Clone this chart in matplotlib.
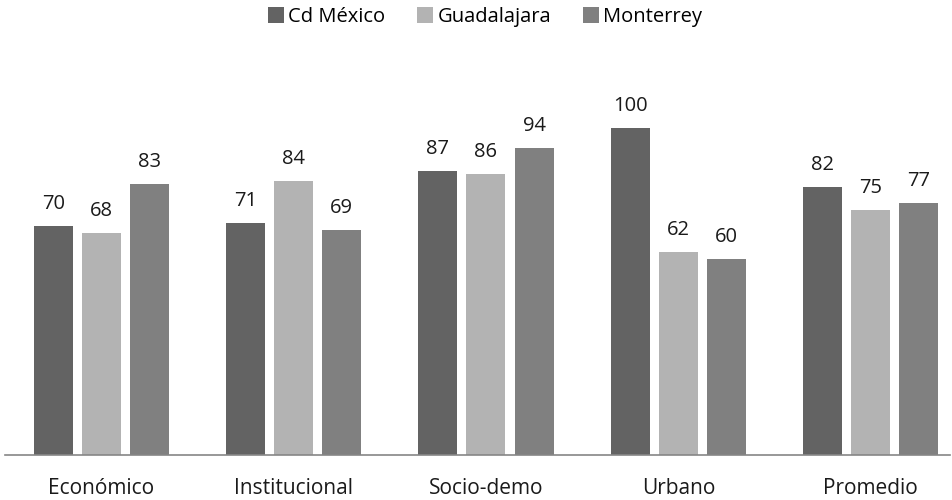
import numpy as np
import matplotlib.pyplot as plt

categories = ["Económico", "Institucional", "Socio-demo", "Urbano", "Promedio"]
series_names = ["Cd México", "Guadalajara", "Monterrey"]
cd_mexico = [70, 71, 87, 100, 82]
guadalajara = [68, 84, 86, 62, 75]
monterrey = [83, 69, 94, 60, 77]
colors = ["#636363", "#b3b3b3", "#808080"]

plt.rcParams['font.family'] = ['Open Sans', 'DejaVu Sans']
fs = 14.5

fig = plt.figure(figsize=(9.53, 5), dpi=100)
# axes spans pixel 5..950 horizontally, baseline at y=455
ax = fig.add_axes([5 / 953, 45 / 500, 945 / 953, 392 / 500])

cat_px = 192.4
x = np.arange(len(categories))
width = 39 / cat_px
step = 48 / cat_px
for i, (name, vals) in enumerate(zip(series_names, [cd_mexico, guadalajara, monterrey])):
    pos = x + (i - 1) * step
    ax.bar(pos, vals, width, color=colors[i], label=name)
    for p, v in zip(pos, vals):
        ax.text(p, v + 5.2, str(v), ha='center', va='baseline', fontsize=fs, color='#1a1a1a')

ax.set_xlim(-0.5, -0.5 + 945 / cat_px)
ax.set_ylim(0, 120)
ax.set_xticks(x)
ax.set_xticklabels(categories, fontsize=15, color='#1a1a1a')
ax.tick_params(axis='x', length=0, pad=16.5)
ax.set_yticks([])
for s in ['top', 'right', 'left']:
    ax.spines[s].set_visible(False)
ax.spines['bottom'].set_color('#868686')
ax.spines['bottom'].set_linewidth(1.2)

fig.legend(loc='center', bbox_to_anchor=(0.509, 0.966), ncol=3, frameon=False,
           fontsize=fs, handlelength=0.8, handleheight=0.8, handletextpad=0.2,
           columnspacing=1.6, borderpad=0)

fig.savefig("out.png", dpi=100)
